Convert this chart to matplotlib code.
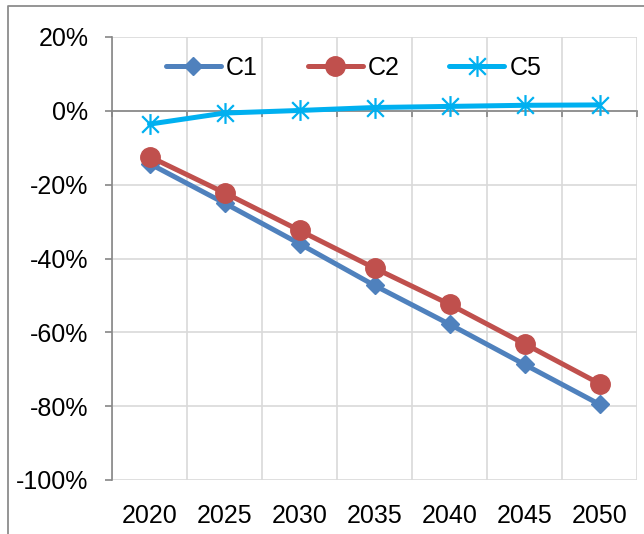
import matplotlib
matplotlib.use("Agg")
import matplotlib.pyplot as plt
from matplotlib.path import Path
from matplotlib.ticker import FuncFormatter, FixedLocator
from matplotlib.lines import Line2D

years = ["2020", "2025", "2030", "2035", "2040", "2045", "2050"]
c1 = [-14.3, -25.0, -36.0, -47.3, -57.8, -68.7, -79.5]
c2 = [-12.4, -22.2, -32.4, -42.6, -52.4, -63.1, -73.9]
c5 = [-3.6, -0.6, 0.1, 0.9, 1.2, 1.5, 1.6]

plt.rcParams["font.family"] = ["Liberation Sans", "DejaVu Sans"]

fig = plt.figure(figsize=(6.44, 5.34), dpi=100)
ax = fig.add_axes([112 / 644, 54 / 534, 525 / 644, 443 / 534])

# outer chart frame (left and top edges)
fig.add_artist(Line2D([8 / 644, 8 / 644, 1.0], [0.0, 1 - 6 / 534, 1 - 6 / 534],
                      transform=fig.transFigure, color="#8c8c8c", lw=1.3))

x = list(range(len(years)))

# asterisk marker: vertical stroke plus two diagonals
star_path = Path(
    [(0, -1), (0, 1), (-0.8, -0.8), (0.8, 0.8), (-0.8, 0.8), (0.8, -0.8)],
    [Path.MOVETO, Path.LINETO, Path.MOVETO, Path.LINETO, Path.MOVETO, Path.LINETO],
)

ax.plot(x, c1, color="#4F81BD", lw=3.6, marker="D", ms=9.5, label="C1",
        solid_capstyle="round", zorder=3)
ax.plot(x, c2, color="#C0504D", lw=3.6, marker="o", ms=14, label="C2",
        solid_capstyle="round", zorder=4)
ax.plot(x, c5, color="#00B0F0", lw=3.6, marker=star_path, ms=15, mew=1.6,
        mfc="none", mec="#00B0F0", label="C5", solid_capstyle="round", zorder=5)

ax.set_xlim(-0.5, len(years) - 0.5)
ax.set_ylim(-100, 20)
ax.set_yticks(range(-100, 21, 20))
ax.yaxis.set_major_formatter(FuncFormatter(lambda v, p: f"{v:.0f}%"))

# category boundaries for gridlines and tick marks on the zero line
bounds = [i - 0.5 for i in range(len(years) + 1)]
ax.xaxis.set_minor_locator(FixedLocator(bounds))
ax.set_xticks(x)
ax.set_xticklabels(years)

ax.grid(axis="y", which="major", color="#D9D9D9", lw=1.2, zorder=0)
ax.grid(axis="x", which="minor", color="#D9D9D9", lw=1.2, zorder=0)
ax.grid(axis="x", which="major", visible=False)

for s in ["top", "right"]:
    ax.spines[s].set_visible(False)
ax.spines["left"].set_color("#868686")
ax.spines["left"].set_linewidth(1.2)
ax.spines["bottom"].set_position(("data", 0))
ax.spines["bottom"].set_color("#868686")
ax.spines["bottom"].set_linewidth(1.2)
ax.spines["bottom"].set_zorder(2)

ax.tick_params(axis="y", direction="out", length=5, width=1.2, color="#868686",
               labelsize=18, pad=12)
ax.tick_params(axis="x", which="minor", direction="out", length=4.5, width=1.2,
               color="#868686")
ax.tick_params(axis="x", which="major", length=0, labelbottom=False)

# year labels along the bottom edge of the plot area
sec = ax.secondary_xaxis(0.0)
sec.set_xticks(x)
sec.set_xticklabels(years)
sec.tick_params(length=0, labelsize=18, pad=17)
sec.spines["bottom"].set_visible(False)

ax.legend(loc="center", bbox_to_anchor=(0.46, 0.93), ncol=3, frameon=False,
          fontsize=18, handlelength=2.2, columnspacing=2.0, handletextpad=0.2,
          numpoints=1)

fig.savefig("out.png", dpi=100, facecolor="white")
